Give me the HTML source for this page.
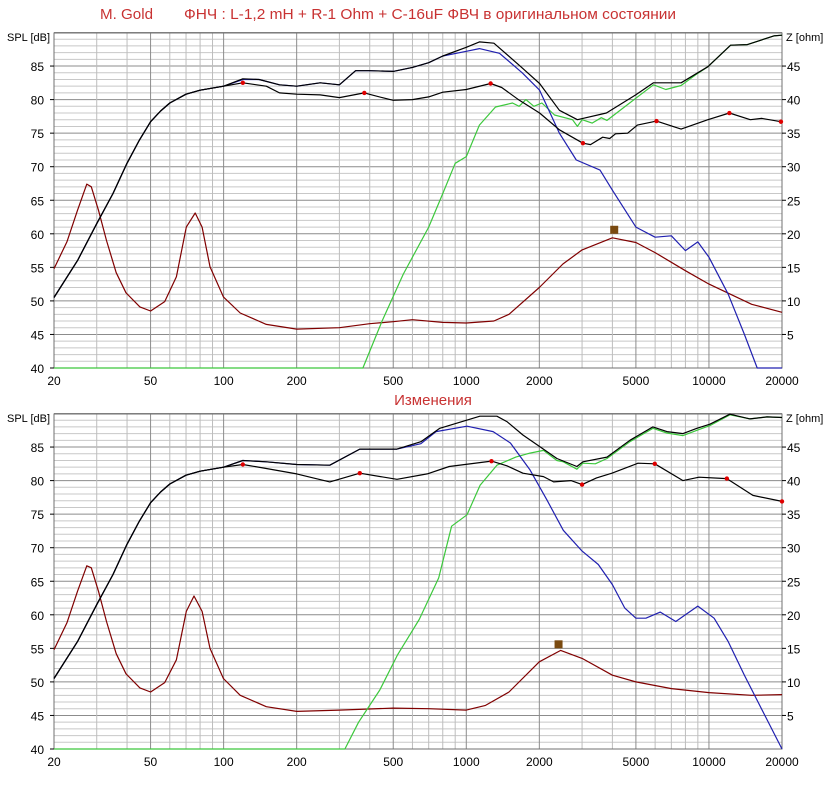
<!DOCTYPE html>
<html><head><meta charset="utf-8">
<style>
html,body{margin:0;padding:0;background:#fff;}
svg{display:block;}
text{font-family:"Liberation Sans","DejaVu Sans",sans-serif;}
</style></head>
<body>
<svg id="s" width="830" height="787" xmlns="http://www.w3.org/2000/svg">
<text x="100" y="19" font-size="15" fill="#c83232" textLength="53" lengthAdjust="spacingAndGlyphs">M. Gold</text>
<text x="184" y="19" font-size="15" fill="#c83232" textLength="492" lengthAdjust="spacingAndGlyphs">ФНЧ :  L-1,2 mH + R-1 Ohm + C-16uF ФВЧ в оригинальном состоянии</text>
<text x="433" y="405" font-size="15" fill="#c83232" text-anchor="middle">Изменения</text>
</svg>
<script>
var S=document.getElementById('s'),NS='http://www.w3.org/2000/svg';
function el(t,a,txt){var e=document.createElementNS(NS,t);for(var k in a)e.setAttribute(k,a[k]);if(txt!==undefined)e.textContent=txt;S.appendChild(e);return e;}
var X0=54,X1=782,PD=(X1-X0)/3;
function fx(f){return X0+Math.log10(f/20)*PD;}
function chart(off){
  var top=33+off,bot=368+off;
  function fy(d){return bot-(d-40)*6.71;}
  for(var d=40;d<=90;d++){var y=fy(d);el('line',{x1:X0,x2:X1,y1:y,y2:y,stroke:d%5==0?'#8c8c8c':'#c8c8c8','stroke-width':1});}
  var fs=[];for(var dec=10;dec<=10000;dec*=10)for(var m=1;m<10;m++){var f=m*dec;if(f>20&&f<20000)fs.push(f);}
  fs.forEach(function(f){var x=fx(f);var maj=[50,100,200,500,1000,2000,5000,10000].indexOf(f)>=0;
    el('line',{x1:x,x2:x,y1:top,y2:bot,stroke:maj?'#8c8c8c':'#bdbdbd','stroke-width':1});});
  el('rect',{x:X0,y:top,width:X1-X0,height:bot-top,fill:'none',stroke:'#707070','stroke-width':1});
  for(var d=40;d<=85;d+=5){var y=fy(d);
    el('line',{x1:X0-4,x2:X0,y1:y,y2:y,stroke:'#000'});
    el('text',{x:44,y:y+5,'font-size':12,'text-anchor':'end',fill:'#000'},''+d);
    if(d>40){el('line',{x1:X1,x2:X1+4,y1:y,y2:y,stroke:'#000'});
    el('text',{x:787,y:y+5,'font-size':12,fill:'#000'},''+(d-40));}
  }
  el('text',{x:7,y:top+8,'font-size':11,fill:'#000'},'SPL [dB]');
  el('text',{x:786,y:top+8,'font-size':11,fill:'#000'},'Z [ohm]');
  [20,50,100,200,500,1000,2000,5000,10000,20000].forEach(function(f){
    el('text',{x:fx(f),y:bot+17,'font-size':12,'text-anchor':'middle',fill:'#000'},''+f);});
  return fy;
}
function line(fy,pts,col,z){var d='';pts.forEach(function(p,i){var v=z?p[1]+40:p[1];if(v<40)v=40;d+=(i?'L':'M')+fx(p[0]).toFixed(1)+' '+fy(v).toFixed(1)+' ';});
  el('path',{d:d,fill:'none',stroke:col,'stroke-width':1.2,'stroke-linejoin':'round'});}
function dots(fy,pts){pts.forEach(function(p){el('circle',{cx:fx(p[0]),cy:fy(p[1]),r:2.2,fill:'#e00000'});});}
var low=[[20,50.5],[25,56],[30,61.5],[35,66],[40,70.5],[45,74],[50,76.7],[55,78.3],[60,79.5],[70,80.8],[80,81.4],[100,82]];

var fy=chart(0);
line(fy,[[20,14.8],[22.6,18.8],[25,23.5],[27.3,27.4],[28.5,27],[30.5,23.5],[32.9,19],[36.1,14.2],[39.6,11.2],[45.2,9.1],[50,8.5],[57.2,9.9],[63.9,13.6],[70.2,21],[76.4,23.1],[81.5,21],[87.9,15.1],[99.8,10.6],[117,8.2],[150,6.5],[200,5.8],[300,6],[400,6.6],[500,6.9],[600,7.2],[800,6.8],[1000,6.7],[1300,7],[1500,8],[2000,12],[2500,15.5],[3000,17.6],[4000,19.4],[5000,18.7],[6000,17.2],[8000,14.5],[10000,12.5],[15000,9.5],[20000,8.3]],'#800000',true);
line(fy,[[20,40],[375,40],[450,47],[550,54],[700,61],[800,66],[900,70.5],[1000,71.5],[1132,76.2],[1320,78.9],[1550,79.5],[1650,79],[1760,80],[1900,79],[2050,79.5],[2310,77.7],[2740,77],[2870,76],[3000,77],[3300,76.5],[3600,77.3],[3800,76.9],[4990,80.2],[5910,82.2],[6640,81.5],[7680,82.1],[8820,83.7],[9900,84.9],[12280,88.1],[14400,88.2],[16500,88.9],[18500,89.5],[20000,89.6]],'#3cc83c');
line(fy,low.concat([[120,83],[140,83],[170,82.2],[200,82],[250,82.5],[300,82.2],[350,84.3],[400,84.3],[500,84.2],[600,84.8],[700,85.5],[800,86.5],[1000,87.2],[1132,87.6],[1370,86.9],[1700,84],[2005,81.4],[2420,75],[2840,71],[3557,69.5],[4000,66.5],[5000,61],[6000,59.5],[7000,59.7],[8000,57.5],[9000,58.8],[10000,56.5],[12000,51],[14000,45],[15800,40],[20000,40]]),'#2020b0');
line(fy,low.concat([[120,83.1],[140,83],[170,82.2],[200,82],[250,82.5],[300,82.2],[350,84.3],[400,84.3],[500,84.2],[600,84.8],[700,85.5],[800,86.5],[1000,87.8],[1132,88.6],[1300,88.4],[1655,85.1],[2005,82.4],[2420,78.4],[2870,77],[3780,78],[4990,80.7],[5910,82.5],[7680,82.5],[9900,84.9],[12280,88.1],[14400,88.2],[16500,88.9],[18500,89.5],[20000,89.6]]),'#000');
line(fy,low.concat([[120,82.5],[150,82],[170,81],[200,80.8],[250,80.7],[300,80.3],[380,81],[450,80.3],[500,79.9],[600,80],[700,80.4],[800,81.1],[1000,81.5],[1260,82.4],[1400,81.8],[1655,79.9],[2005,78],[2420,75.5],[3025,73.5],[3250,73.3],[3650,74.4],[3900,74.2],[4120,74.9],[4620,75],[5070,76.2],[6080,76.8],[7680,75.6],[9900,77],[12140,78],[14800,77],[16500,77.2],[19800,76.7],[20000,76.6]]),'#000');
dots(fy,[[120,82.5],[380,81],[1260,82.4],[3025,73.5],[6080,76.8],[12140,78],[19800,76.7]]);
el('rect',{x:fx(4070)-4,y:fy(60.6)-4,width:8,height:8,fill:'#7a4a10'});

fy=chart(381);
line(fy,[[20,14.8],[22.6,18.8],[25,23.5],[27.3,27.3],[28.5,27],[30.5,23.5],[32.9,19],[36.1,14.2],[39.6,11.2],[45.2,9.1],[50,8.5],[57.2,9.9],[63.9,13.3],[70.2,20.5],[75.5,22.8],[81.5,20.5],[87.9,15],[99.8,10.5],[117,8],[150,6.3],[200,5.6],[300,5.8],[500,6.1],[700,6],[1000,5.8],[1200,6.5],[1500,8.5],[2000,13],[2450,14.7],[3000,13.5],[4000,11],[5000,10],[7000,9],[10000,8.4],[15000,8],[20000,8.1]],'#800000',true);
line(fy,[[20,40],[316,40],[360,44],[440,48.8],[520,54],[640,59.3],[770,65.5],[870,73.2],[1007,74.9],[1140,79.3],[1337,82.3],[1600,83.5],[1830,84.1],[2080,84.5],[2362,83],[2510,82.8],[2856,81.7],[3025,82.6],[3400,82.5],[3800,83.3],[4725,85.8],[5875,87.8],[6710,87.1],[7820,86.7],[8920,87.5],[10090,88.2],[12200,89.8],[14760,89.2],[17340,89.5],[20000,89.4]],'#3cc83c');
var lowB=low.concat([[120,83],[150,82.8],[200,82.4],[274,82.3],[364,84.7],[518,84.7],[650,85.5],[750,87.3]]);
line(fy,lowB.concat([[1007,88.1],[1290,87.3],[1520,85.6],[1830,81.6],[2150,77.1],[2510,72.6],[3000,69.5],[3500,67.5],[4000,64.5],[4500,61],[5000,59.5],[5500,59.5],[6300,60.4],[7300,59],[8000,60],[9000,61.3],[10500,59.5],[12000,56],[14000,51],[17000,45],[20000,40]]),'#2020b0');
line(fy,low.concat([[120,83],[150,82.8],[200,82.4],[274,82.3],[364,84.7],[518,84.7],[650,85.8],[778,87.8],[1138,89.6],[1337,89.6],[1470,88.8],[1712,86.8],[2023,85],[2362,83.3],[2856,82.1],[3025,82.8],[3800,83.5],[4725,86],[5875,88],[6710,87.3],[7820,87],[8920,87.8],[10090,88.4],[12200,89.9],[14760,89.2],[17340,89.5],[20000,89.4]]),'#000');
line(fy,low.concat([[120,82.4],[150,81.8],[200,81],[274,79.8],[364,81.1],[518,80.2],[690,81],[850,82.1],[1270,82.9],[1470,82.2],[1712,81.1],[2080,80.6],[2290,79.8],[2700,80],[3000,79.4],[3440,80.4],[3980,81.1],[5100,82.6],[5980,82.5],[7820,80],[9100,80.5],[11850,80.3],[15170,77.8],[20000,76.9]]),'#000');
dots(fy,[[120,82.4],[364,81.1],[1270,82.9],[3000,79.4],[5980,82.5],[11850,80.3],[20000,76.9]]);
el('rect',{x:fx(2400)-4,y:fy(55.6)-4,width:8,height:8,fill:'#7a4a10'});
</script>
</body></html>
